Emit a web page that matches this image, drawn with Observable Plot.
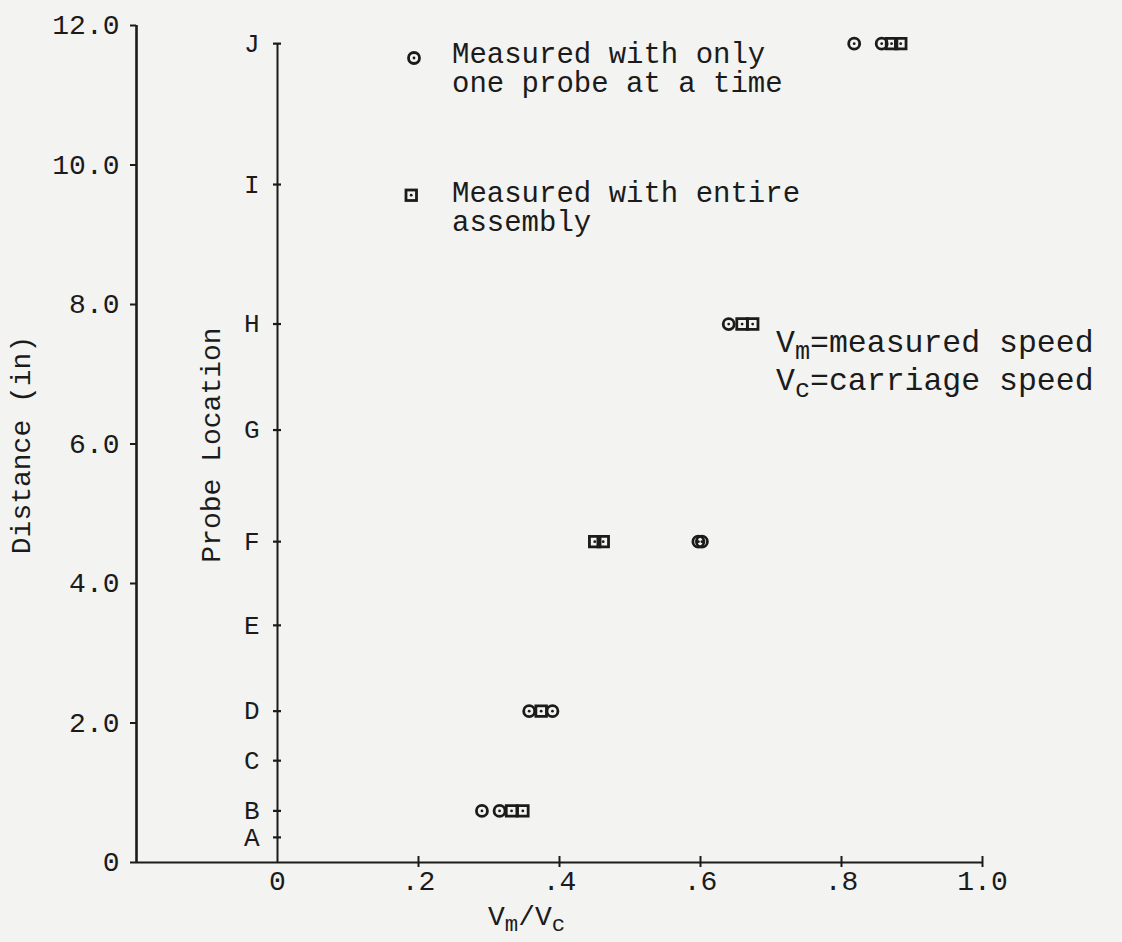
<!DOCTYPE html>
<html><head><meta charset="utf-8">
<script src="https://cdn.jsdelivr.net/npm/d3@7"></script>
<script src="https://cdn.jsdelivr.net/npm/@observablehq/plot@0.6"></script>
<style>
html,body{margin:0;padding:0;background:#f3f3f1;}
#chart svg{display:block;overflow:visible;}
</style></head><body><div id="chart"></div>
<script>
// ---- data ----
const probeLabels = ["A","B","C","D","E","F","G","H","I","J"];
const probeDistance = [0.36, 0.74, 1.46, 2.17, 3.4, 4.6, 6.2, 7.72, 9.72, 11.74];
const distanceTicks = [0, 2, 4, 6, 8, 10, 12];
const distanceTickLabels = ["0", "2.0", "4.0", "6.0", "8.0", "10.0", "12.0"];
const ratioTicks = [0, 0.2, 0.4, 0.6, 0.8, 1.0];
const ratioTickLabels = ["0", ".2", ".4", ".6", ".8", "1.0"];
// measured with only one probe at a time (circles)
const singleLocation = ["B","B","D","D","F","F","H","J","J"];
const singleRatio    = [0.29, 0.315, 0.357, 0.39, 0.597, 0.602, 0.64, 0.818, 0.857];
// measured with entire assembly (squares)
const assemblyLocation = ["B","B","D","F","F","H","H","J","J"];
const assemblyRatio    = [0.332, 0.348, 0.374, 0.45, 0.462, 0.659, 0.674, 0.871, 0.884];

// ---- derived tables ----
const dist = Object.fromEntries(probeLabels.map((p, i) => [p, probeDistance[i]]));
const probes = probeLabels.map((p, i) => ({label: p, d: probeDistance[i]}));
const single = singleRatio.map((r, i) => ({r, d: dist[singleLocation[i]]}));
const assembly = assemblyRatio.map((r, i) => ({r, d: dist[assemblyLocation[i]]}));

const ink = "#1b1b1b";
const font = "'Liberation Mono', 'Courier New', monospace";

const plot = Plot.plot({
  width: 1122, height: 942,
  marginLeft: 136, marginRight: 140, marginTop: 25, marginBottom: 80,
  x: {domain: [-0.2, 1.0], axis: null},
  y: {domain: [0, 12], axis: null},
  style: {background: "transparent", fontFamily: font, color: ink, overflow: "visible"},
  marks: [
    // frame lines
    Plot.ruleX([-0.2], {y1: 0, y2: 12, stroke: ink, strokeWidth: 2.6}),
    Plot.ruleY([0], {x1: -0.2, x2: 1.0, stroke: ink, strokeWidth: 2.2}),
    Plot.ruleX([0], {y1: 0, y2: probeDistance[probeDistance.length - 1], stroke: ink, strokeWidth: 2}),
    // left distance ticks + labels
    Plot.ruleY(distanceTicks, {x1: -0.2, x2: -0.2, insetLeft: -6, stroke: ink, strokeWidth: 2}),
    Plot.text(distanceTicks, {x: -0.2, y: d => d, text: (d, i) => distanceTickLabels[i],
      textAnchor: "end", dx: -17, fontSize: 28, fill: ink}),
    // bottom ratio ticks + labels
    Plot.ruleX(ratioTicks.slice(1), {y1: 0, y2: 0, insetTop: -6, insetBottom: -5, stroke: ink, strokeWidth: 2}),
    Plot.text(ratioTicks, {x: d => d, y: 0, text: (d, i) => ratioTickLabels[i],
      dy: 19, fontSize: 28, fill: ink}),
    // probe location ticks + labels
    Plot.ruleY(probes, {y: "d", x1: 0, x2: 0, insetLeft: -4, insetRight: -4, stroke: ink, strokeWidth: 2.2}),
    Plot.text(probes, {x: 0, y: "d", text: "label", textAnchor: "end", dx: -18, fontSize: 26, fill: ink}),
    // data: circles (one probe at a time)
    Plot.dot(single, {x: "r", y: "d", r: 5.5, stroke: ink, strokeWidth: 2.8, fill: "none"}),
    Plot.dot(single, {x: "r", y: "d", r: 1.4, fill: ink}),
    // data: squares (entire assembly)
    Plot.dot(assembly, {x: "r", y: "d", symbol: "square", r: 6, stroke: ink, strokeWidth: 2.8, fill: "none"}),
    Plot.dot(assembly, {x: "r", y: "d", r: 1.4, fill: ink})
  ]
});

document.getElementById("chart").appendChild(plot);

// ---- extra text (labels, legend, annotations) ----
const svg = d3.select(plot);
const g = svg.append("g").attr("font-family", font).attr("fill", ink).attr("text-anchor", "start");

g.append("text").attr("transform", "translate(23,445) rotate(-90)")
  .attr("text-anchor", "middle").attr("dominant-baseline", "middle")
  .attr("font-size", 28).text("Distance (in)");
g.append("text").attr("transform", "translate(213,445) rotate(-90)")
  .attr("text-anchor", "middle").attr("dominant-baseline", "middle")
  .attr("font-size", 28).text("Probe Location");

function subText(x, y, parts, size, drop) {
  const t = g.append("text").attr("x", x).attr("y", y).attr("font-size", size)
    .attr("text-anchor", "start");
  let offset = 0;
  parts.forEach(([s, sub]) => {
    const want = sub ? drop : 0;
    t.append("tspan").attr("font-size", sub ? size * 0.8 : size)
      .attr("dy", want - offset).text(s);
    offset = want;
  });
  return t;
}
// x-axis label V_m / V_c
subText(488, 925, [["V"], ["m", true], ["/V"], ["c", true]], 28, 6);
// annotations
subText(776, 352, [["V"], ["m", true], ["=measured speed"]], 31.5, 7);
subText(776, 390, [["V"], ["c", true], ["=carriage speed"]], 31.5, 7);

// legend
const lg = g.append("g");
lg.append("circle").attr("cx", 414).attr("cy", 58).attr("r", 5.5)
  .attr("fill", "none").attr("stroke", ink).attr("stroke-width", 2.8);
lg.append("circle").attr("cx", 414).attr("cy", 58).attr("r", 1.4).attr("fill", ink);
lg.append("rect").attr("x", 406).attr("y", 190).attr("width", 10.5).attr("height", 10.5)
  .attr("fill", "none").attr("stroke", ink).attr("stroke-width", 2.8);
lg.append("circle").attr("cx", 411.2).attr("cy", 195.2).attr("r", 1.4).attr("fill", ink);
[["Measured with only", 63], ["one probe at a time", 92],
 ["Measured with entire", 202], ["assembly", 231]].forEach(([s, y]) => {
  lg.append("text").attr("x", 452).attr("y", y).attr("font-size", 29)
    .attr("text-anchor", "start").text(s);
});
</script>
</body></html>
